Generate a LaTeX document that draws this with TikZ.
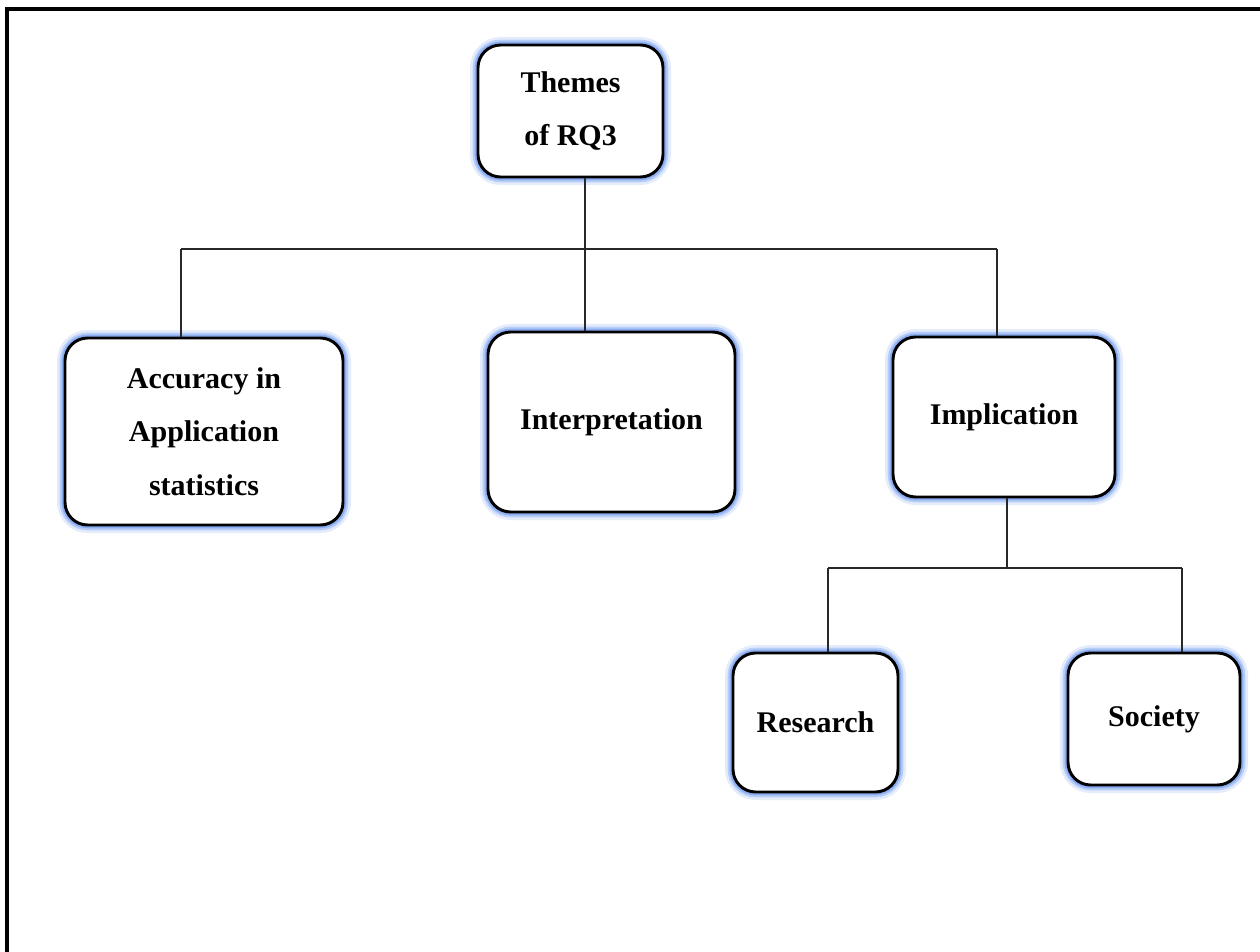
\documentclass[tikz,border=0pt]{standalone}
\usepackage{fontspec}
\setmainfont{Liberation Serif}
\definecolor{glowc}{RGB}{120,160,240}
\definecolor{linec}{RGB}{40,40,40}
\begin{document}
\begin{tikzpicture}[x=0.75pt,y=-0.75pt,
  themebox/.style={draw=black, line width=2.2pt, rounded corners=17pt, fill=white,
    preaction={draw=glowc, line width=12pt, opacity=0.2},
    preaction={draw=glowc, line width=8pt, opacity=0.4},
    preaction={draw=glowc, line width=5pt, opacity=0.7},
    align=center, inner sep=0pt,
    font=\fontsize{22.5}{40}\selectfont\bfseries},
  conn/.style={draw=linec, line width=1pt}]
\useasboundingbox (0,0) rectangle (1260,952);
\fill[white] (0,0) rectangle (1260,952);
% frame (top and left only)
\draw[line width=3pt] (7,952) -- (7,9) -- (1260,9);

\node[themebox, minimum width=138.75pt, minimum height=99pt] (top) at (570.5,111) {Themes\\of RQ3};
\node[themebox, minimum width=208.5pt, minimum height=140.25pt] (acc) at (204,431.5) {Accuracy in\\Application\\statistics};
\node[themebox, minimum width=185.25pt, minimum height=135pt] (interp) at (611.5,422) {\raisebox{3pt}{Interpretation}};
\node[themebox, minimum width=166.5pt, minimum height=120pt] (impl) at (1004,417) {\raisebox{3pt}{Implication}};
\node[themebox, minimum width=123.75pt, minimum height=104.25pt] (res) at (815.5,722.5) {Research};
\node[themebox, minimum width=129pt, minimum height=99pt] (soc) at (1154,719) {Society};

\coordinate (bl) at (181,249);
\coordinate (br) at (997,249);
\coordinate (jt) at (585,249);
\coordinate (j2) at (1007,568);
\coordinate (l2) at (828,568);
\coordinate (r2) at (1182,568);

\draw[conn] (bl) -- (br);
\draw[conn] (top.south -| jt) -- (interp.north -| jt);
\draw[conn] (bl) -- (acc.north -| bl);
\draw[conn] (br) -- (impl.north -| br);
\draw[conn] (impl.south -| j2) -- (j2);
\draw[conn] (l2) -- (r2);
\draw[conn] (l2) -- (res.north -| l2);
\draw[conn] (r2) -- (soc.north -| r2);
\end{tikzpicture}
\end{document}
